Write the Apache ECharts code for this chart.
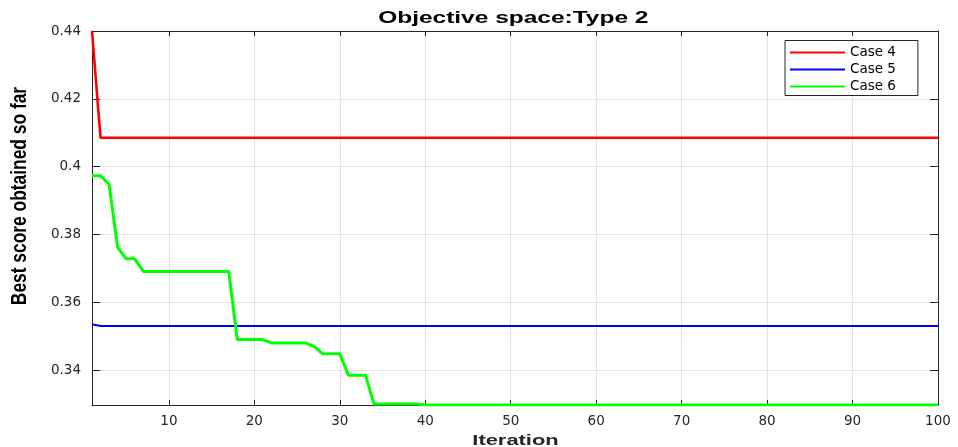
<!DOCTYPE html>
<html>
<head>
<meta charset="utf-8">
<script src="https://cdn.jsdelivr.net/npm/echarts@6/dist/echarts.min.js"></script>
<style>html,body{margin:0;padding:0;background:#fff;}#c{width:958px;height:447px;}</style>
</head>
<body>
<div id="c"></div>
<script>
const iterations = [
  1,2,3,4,5,6,7,8,9,10,
  11,12,13,14,15,16,17,18,19,20,
  21,22,23,24,25,26,27,28,29,30,
  31,32,33,34,35,36,37,38,39,40,
  41,42,43,44,45,46,47,48,49,50,
  51,52,53,54,55,56,57,58,59,60,
  61,62,63,64,65,66,67,68,69,70,
  71,72,73,74,75,76,77,78,79,80,
  81,82,83,84,85,86,87,88,89,90,
  91,92,93,94,95,96,97,98,99,100
];
const case4 = [
  0.44,0.4085,0.4085,0.4085,0.4085,0.4085,0.4085,0.4085,0.4085,0.4085,
  0.4085,0.4085,0.4085,0.4085,0.4085,0.4085,0.4085,0.4085,0.4085,0.4085,
  0.4085,0.4085,0.4085,0.4085,0.4085,0.4085,0.4085,0.4085,0.4085,0.4085,
  0.4085,0.4085,0.4085,0.4085,0.4085,0.4085,0.4085,0.4085,0.4085,0.4085,
  0.4085,0.4085,0.4085,0.4085,0.4085,0.4085,0.4085,0.4085,0.4085,0.4085,
  0.4085,0.4085,0.4085,0.4085,0.4085,0.4085,0.4085,0.4085,0.4085,0.4085,
  0.4085,0.4085,0.4085,0.4085,0.4085,0.4085,0.4085,0.4085,0.4085,0.4085,
  0.4085,0.4085,0.4085,0.4085,0.4085,0.4085,0.4085,0.4085,0.4085,0.4085,
  0.4085,0.4085,0.4085,0.4085,0.4085,0.4085,0.4085,0.4085,0.4085,0.4085,
  0.4085,0.4085,0.4085,0.4085,0.4085,0.4085,0.4085,0.4085,0.4085,0.4085
];
const case5 = [
  0.3535,0.3530,0.3530,0.3530,0.3530,0.3530,0.3530,0.3530,0.3530,0.3530,
  0.3530,0.3530,0.3530,0.3530,0.3530,0.3530,0.3530,0.3530,0.3530,0.3530,
  0.3530,0.3530,0.3530,0.3530,0.3530,0.3530,0.3530,0.3530,0.3530,0.3530,
  0.3530,0.3530,0.3530,0.3530,0.3530,0.3530,0.3530,0.3530,0.3530,0.3530,
  0.3530,0.3530,0.3530,0.3530,0.3530,0.3530,0.3530,0.3530,0.3530,0.3530,
  0.3530,0.3530,0.3530,0.3530,0.3530,0.3530,0.3530,0.3530,0.3530,0.3530,
  0.3530,0.3530,0.3530,0.3530,0.3530,0.3530,0.3530,0.3530,0.3530,0.3530,
  0.3530,0.3530,0.3530,0.3530,0.3530,0.3530,0.3530,0.3530,0.3530,0.3530,
  0.3530,0.3530,0.3530,0.3530,0.3530,0.3530,0.3530,0.3530,0.3530,0.3530,
  0.3530,0.3530,0.3530,0.3530,0.3530,0.3530,0.3530,0.3530,0.3530,0.3530
];
const case6 = [
  0.3973,0.3973,0.3948,0.3762,0.3728,0.3728,0.3691,0.3691,0.3691,0.3691,
  0.3691,0.3691,0.3691,0.3691,0.3691,0.3691,0.3691,0.3490,0.3490,0.3490,
  0.3490,0.3480,0.3480,0.3480,0.3480,0.3480,0.3470,0.3448,0.3448,0.3448,
  0.3385,0.3385,0.3385,0.3300,0.3300,0.3300,0.3300,0.3300,0.3300,0.3297,
  0.3297,0.3297,0.3297,0.3297,0.3297,0.3297,0.3297,0.3297,0.3297,0.3297,
  0.3297,0.3297,0.3297,0.3297,0.3297,0.3297,0.3297,0.3297,0.3297,0.3297,
  0.3297,0.3297,0.3297,0.3297,0.3297,0.3297,0.3297,0.3297,0.3297,0.3297,
  0.3297,0.3297,0.3297,0.3297,0.3297,0.3297,0.3297,0.3297,0.3297,0.3297,
  0.3297,0.3297,0.3297,0.3297,0.3297,0.3297,0.3297,0.3297,0.3297,0.3297,
  0.3297,0.3297,0.3297,0.3297,0.3297,0.3297,0.3297,0.3297,0.3297,0.3297
];
const seriesNames = ['Case 4', 'Case 5', 'Case 6'];
const titleText = 'Objective space:Type 2';
const xName = 'Iteration';
const yName = 'Best score obtained so far';

const pairs = (ys) => iterations.map((x, i) => [x, ys[i]]);
const dark = '#262626';
const gridColor = '#e3e3e3';
const tickFont = { color: dark, fontSize: 13.5, fontFamily: 'DejaVu Sans, Liberation Sans, sans-serif' };
const boldFont = '"Liberation Sans", Arial, sans-serif';

const chart = echarts.init(document.getElementById('c'), null, { renderer: 'canvas' });
chart.setOption({
  animation: false,
  backgroundColor: '#ffffff',
  grid: { left: 92, right: 20, top: 31, bottom: 42, containLabel: false },
  legend: {
    orient: 'vertical', left: 785, top: 40.5,
    padding: [5, 22, 2, 5], itemGap: 3, itemWidth: 55, itemHeight: 2,
    icon: 'rect',
    backgroundColor: '#ffffff', borderColor: dark, borderWidth: 1, borderRadius: 0,
    textStyle: { color: '#000', fontSize: 13.5, lineHeight: 14, fontFamily: 'DejaVu Sans, Liberation Sans, sans-serif' },
    data: seriesNames
  },
  xAxis: [{
    type: 'value', min: 1, max: 100, splitNumber: 10, position: 'bottom',
    axisLine: { show: true, onZero: false, lineStyle: { color: dark, width: 1 } },
    axisTick: { show: true, inside: true, length: 5, lineStyle: { color: dark } },
    axisLabel: Object.assign({ margin: 9, showMinLabel: false, showMaxLabel: true }, tickFont),
    splitLine: { show: true, lineStyle: { color: gridColor, width: 1 } }
  }, {
    type: 'value', min: 1, max: 100, splitNumber: 10, position: 'top',
    axisLine: { show: true, onZero: false, lineStyle: { color: dark, width: 1 } },
    axisTick: { show: true, inside: true, length: 5, lineStyle: { color: dark } },
    axisLabel: { show: false },
    splitLine: { show: false }
  }],
  yAxis: [{
    type: 'value', min: 0.3297, max: 0.44, splitNumber: 5, position: 'left',
    axisLine: { show: true, onZero: false, lineStyle: { color: dark, width: 1 } },
    axisTick: { show: true, inside: true, length: 8, lineStyle: { color: dark } },
    axisLabel: Object.assign({ margin: 11, showMinLabel: false, showMaxLabel: true }, tickFont),
    splitLine: { show: true, lineStyle: { color: gridColor, width: 1 } }
  }, {
    type: 'value', min: 0.3297, max: 0.44, splitNumber: 5, position: 'right',
    axisLine: { show: true, onZero: false, lineStyle: { color: dark, width: 1 } },
    axisTick: { show: true, inside: true, length: 8, lineStyle: { color: dark } },
    axisLabel: { show: false },
    splitLine: { show: false }
  }],
  graphic: [{
    type: 'text', x: 513.3, y: 18.5, scaleX: 1.53,
    style: { text: titleText, fill: '#000', align: 'center', verticalAlign: 'middle',
      font: 'bold 16px ' + boldFont }
  }, {
    type: 'text', x: 515.5, y: 440.5, scaleX: 1.51,
    style: { text: xName, fill: dark, align: 'center', verticalAlign: 'middle',
      font: 'bold 14.5px ' + boldFont }
  }, {
    type: 'text', x: 20, y: 196, rotation: Math.PI / 2, scaleX: 0.79,
    style: { text: yName, fill: '#000', align: 'center', verticalAlign: 'middle',
      font: 'bold 22px ' + boldFont }
  }],
  series: [
    { name: seriesNames[0], type: 'line', xAxisIndex: 0, yAxisIndex: 0, data: pairs(case4), showSymbol: false, symbol: 'none', z: 3,
      lineStyle: { color: '#ff0000', width: 2.6 }, itemStyle: { color: '#ff0000' } },
    { name: seriesNames[1], type: 'line', xAxisIndex: 0, yAxisIndex: 0, data: pairs(case5), showSymbol: false, symbol: 'none', z: 3,
      lineStyle: { color: '#0000ff', width: 2 }, itemStyle: { color: '#0000ff' } },
    { name: seriesNames[2], type: 'line', xAxisIndex: 0, yAxisIndex: 0, data: pairs(case6), showSymbol: false, symbol: 'none', z: 4,
      lineStyle: { color: '#00ff00', width: 3 }, itemStyle: { color: '#00ff00' } }
  ]
});
</script>
</body>
</html>
